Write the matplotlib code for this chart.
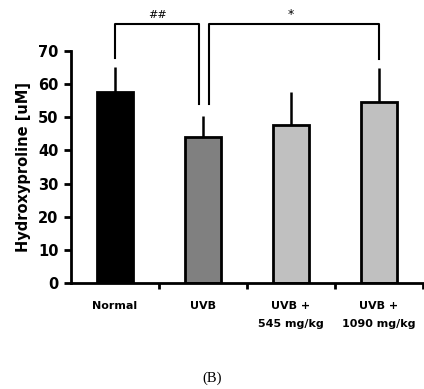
import matplotlib
matplotlib.use("Agg")
import matplotlib.pyplot as plt
import numpy as np

categories = ["Normal", "UVB", "UVB +\n545 mg/kg", "UVB +\n1090 mg/kg"]
means = [57.6, 44.2, 47.7, 54.7]
errors = [7.6, 6.2, 10.0, 10.3]
colors = ["#000000", "#808080", "#c0c0c0", "#c0c0c0"]
yticks = [0, 10, 20, 30, 40, 50, 60, 70]

plt.rcParams['font.family'] = ['DejaVu Sans']

fig = plt.figure(figsize=(4.24, 3.89), dpi=100)
ax = fig.add_axes([71/424, 1-283/389, 352/424, 232/389])
x = np.arange(len(categories))
ax.bar(x, means, width=0.41, color=colors, edgecolor="black", linewidth=2, zorder=2)
ax.errorbar(x, means, yerr=[np.zeros(len(x)), errors], fmt="none", ecolor="black",
            elinewidth=1.8, capsize=0, zorder=1)
ax.set_xlim(-0.5, 3.5)
ax.set_ylim(0, 70)
ax.set_yticks(yticks)
ax.set_yticklabels([str(v) for v in yticks], fontsize=10.5, fontweight="bold")
ax.set_xticks([0.5, 1.5, 2.5, 3.5])
ax.set_xticklabels([])
ax.tick_params(axis="y", direction="out", length=5, width=2, pad=4)
ax.tick_params(axis="x", direction="out", length=4, width=2)
for s in ["top", "right"]:
    ax.spines[s].set_visible(False)
for s in ["left", "bottom"]:
    ax.spines[s].set_linewidth(2)
for xi, lab in zip(x, categories):
    ax.text(xi, -5.3, lab, ha="center", va="top", fontsize=8, fontweight="bold",
            linespacing=2.1)
ax.set_ylabel("Hydroxyproline [uM]", fontsize=10.5, fontweight="bold", labelpad=5)

# significance brackets
top = 78.2
ax.plot([0, 0, 0.96, 0.96], [68.0, top, top, 54.0], color="black", lw=1.5, clip_on=False)
ax.plot([1.07, 1.07, 3.0, 3.0], [54.0, top, top, 67.7], color="black", lw=1.5, clip_on=False)
ax.text(0.48, top + 1.2, "##", ha="center", va="bottom", fontsize=8)
ax.text(2.0, top + 0.8, "*", ha="center", va="bottom", fontsize=9)

fig.text(212/424, 1-378/389, "(B)", ha="center", va="center", fontsize=10.5,
         family="Liberation Serif")
fig.savefig("out.png", dpi=100)
